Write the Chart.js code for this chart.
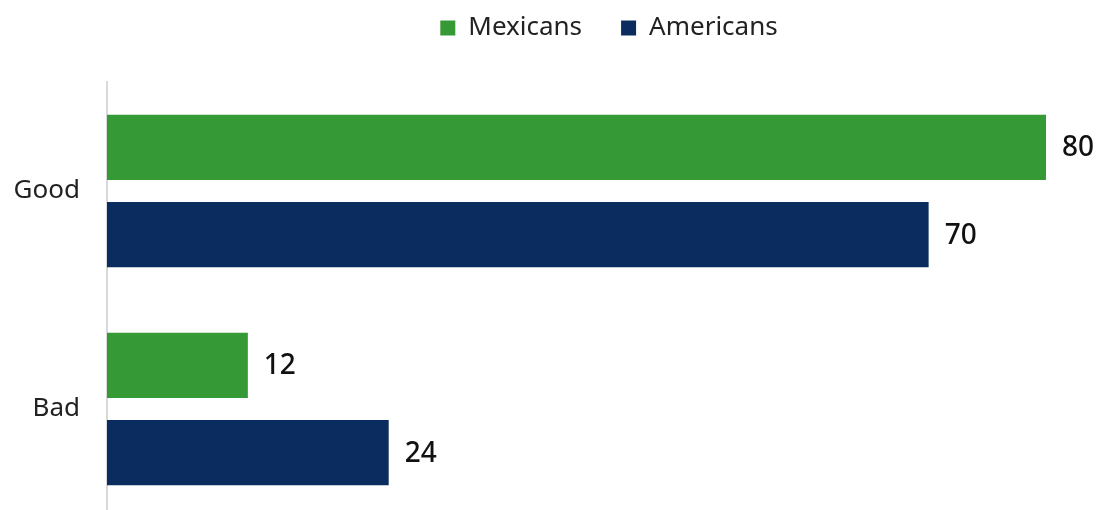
<!DOCTYPE html>
<html lang="en">
    <head>
        <script src="https://cdn.jsdelivr.net/npm/chart.js"></script>
        <style>
            html, body { margin: 0; padding: 0; overflow: hidden; background: #fff; }
            #wrap { position: relative; width: 1103px; height: 520px; }
        </style>
    </head>
    <body>
        <div id="wrap"><canvas id="myChart"></canvas></div>
        <script>
            const categories = ["Good", "Bad"]
            const mexicans = [80, 12]
            const americans = [70, 24]
            const seriesNames = ["Mexicans", "Americans"]

            // value labels at the end of each bar
            const barLabels = {
                id: "barLabels",
                afterDatasetsDraw(chart) {
                    const ctx = chart.ctx
                    ctx.save()
                    ctx.font = "500 28px 'Noto Sans'"
                    ctx.fillStyle = "#111"
                    ctx.textBaseline = "middle"
                    chart.data.datasets.forEach((ds, i) => {
                        chart.getDatasetMeta(i).data.forEach((bar, j) => {
                            ctx.fillText(ds.data[j], bar.x + 16, bar.y + 1)
                        })
                    })
                    ctx.restore()
                },
            }

            // legend: fixed height, nudged up and to the right
            const legendPlace = {
                id: "legendPlace",
                beforeInit(chart) {
                    const fit = chart.legend.fit
                    chart.legend.fit = function () {
                        fit.call(this)
                        this.height = 82
                    }
                },
                afterLayout(chart) {
                    const l = chart.legend
                    l.top -= 24
                    l.bottom -= 24
                    l.left += 86
                    l.right += 86
                },
            }

            const ctx = document.getElementById("myChart")
            new Chart(ctx, {
                type: "bar",
                data: {
                    labels: categories,
                    datasets: [
                        {
                            label: seriesNames[0],
                            data: mexicans,
                            backgroundColor: "#359a35",
                            barPercentage: 0.747,
                            categoryPercentage: 0.8,
                        },
                        {
                            label: seriesNames[1],
                            data: americans,
                            backgroundColor: "#0b2c5e",
                            barPercentage: 0.747,
                            categoryPercentage: 0.8,
                        },
                    ],
                },
                options: {
                    responsive: true,
                    maintainAspectRatio: false,
                    indexAxis: "y",
                    animation: false,
                    layout: { padding: { top: 0, right: 57, bottom: 2, left: 0 } },
                    plugins: {
                        tooltip: { enabled: false },
                        legend: {
                            position: "top",
                            labels: {
                                boxWidth: 15,
                                boxHeight: 15,
                                padding: 39,
                                color: "#222",
                                font: { family: "'Noto Sans'", size: 26 },
                            },
                        },
                    },
                    scales: {
                        x: {
                            display: false,
                            min: 0,
                            max: 80,
                        },
                        y: {
                            afterFit: (scale) => {
                                scale.width = 107
                                scale.paddingTop = 0
                                scale.paddingBottom = 0
                            },
                            grid: { display: false },
                            border: { display: true, color: "#d9d9d9", width: 2 },
                            ticks: {
                                padding: 19,
                                color: "#222",
                                font: { family: "'Noto Sans'", size: 26 },
                            },
                        },
                    },
                },
                plugins: [barLabels, legendPlace],
            })
        </script>
    </body>
</html>
